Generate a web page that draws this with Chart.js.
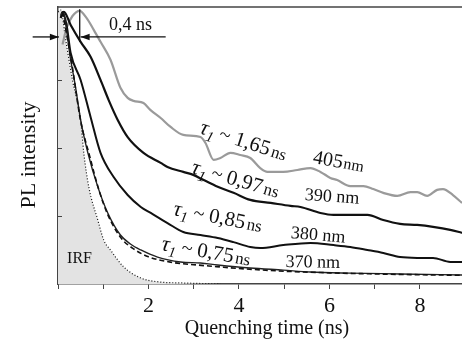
<!DOCTYPE html>
<html><head><meta charset="utf-8">
<script src="https://cdn.jsdelivr.net/npm/chart.js@4/dist/chart.umd.min.js"></script>
<style>html,body{margin:0;padding:0;background:#fff;overflow:hidden}#wrap{width:462px;height:352px}</style>
</head><body><div id="wrap"><canvas id="c" width="462" height="352"></canvas></div>
<script>
// ---- data (time in ns, normalized PL intensity) ----
const t405 = [0.10,0.19,0.32,0.48,0.63,0.79,0.94,1.16,1.38,1.54,1.67,1.89,2.04,2.27,2.49,2.77,3.15,3.26,3.44,3.59,3.81,4.03,4.25,4.47,4.63,4.98,5.29,5.58,5.80,6.02,6.17,6.46,6.75,6.97,7.19,7.50,7.79,7.94,8.16,8.38,8.51,8.73,8.93];
const v405 = [0.880,0.941,0.985,1.004,0.978,0.934,0.890,0.824,0.721,0.684,0.673,0.665,0.640,0.610,0.577,0.548,0.540,0.518,0.456,0.463,0.482,0.474,0.463,0.426,0.412,0.412,0.419,0.426,0.412,0.390,0.382,0.360,0.360,0.349,0.335,0.324,0.338,0.338,0.324,0.346,0.349,0.327,0.298];

const t390 = [0.06,0.13,0.28,0.50,0.72,0.94,1.12,1.32,1.54,1.89,2.27,2.42,2.77,2.99,3.22,3.53,3.88,4.25,4.70,5.14,5.36,5.80,6.09,6.46,6.84,7.19,7.56,7.94,8.29,8.67,8.93];
const v390 = [0.978,1.000,0.952,0.890,0.835,0.750,0.676,0.603,0.540,0.482,0.445,0.430,0.412,0.401,0.382,0.357,0.335,0.309,0.298,0.287,0.283,0.261,0.254,0.254,0.254,0.235,0.221,0.217,0.210,0.199,0.188];

const t380 = [0.06,0.10,0.19,0.28,0.50,0.72,0.94,1.23,1.54,1.83,2.05,2.42,2.77,3.15,3.53,3.88,4.25,4.47,4.98,5.58,6.09,6.46,6.84,7.19,7.56,7.94,8.29,8.67,8.93];
const v380 = [0.978,1.000,0.952,0.849,0.750,0.614,0.482,0.393,0.327,0.283,0.261,0.224,0.191,0.180,0.169,0.154,0.136,0.132,0.143,0.151,0.143,0.136,0.125,0.114,0.099,0.096,0.096,0.081,0.081];

const t370 = [0.06,0.10,0.28,0.39,0.50,0.66,0.88,1.10,1.38,1.60,1.83,2.20,2.71,3.15,3.53,4.25,4.98,5.58,6.46,7.56,8.93];
const v370 = [0.989,1.000,0.824,0.721,0.603,0.482,0.357,0.261,0.180,0.147,0.125,0.099,0.081,0.077,0.070,0.059,0.051,0.044,0.040,0.037,0.033];

const tFit = [0.10,0.30,0.50,0.70,0.90,1.10,1.40,1.70,2.00,2.50,3.00,3.50,4.00,5.00,6.00,7.00,8.00,8.93];
const vFit = [1.000,0.815,0.600,0.470,0.348,0.255,0.168,0.126,0.100,0.080,0.071,0.064,0.057,0.047,0.041,0.037,0.034,0.032];

const tIRF = [0.00,0.06,0.17,0.32,0.50,0.57,0.68,0.88,1.01,1.16,1.45,1.83,2.27,2.71,3.59];
const vIRF = [1.000,1.007,0.897,0.750,0.603,0.482,0.357,0.235,0.162,0.125,0.063,0.022,0.007,0.004,0.000];

const xTickLabels = {2:'2',4:'4',6:'6',8:'8'};
const yTickValues = [0.25,0.5,0.75];

// annotations (data coordinates)
const tauValues = ['1,65','0,97','0,85','0,75'];
const tauX = [3.11,2.93,2.53,2.27];
const tauY = [0.555,0.408,0.254,0.125];
const tauAngle = [18,16,11,10];
const waveValues = ['405','390','380','370'];
const waveX = [5.62,5.45,5.14,5.03];
const waveY = [0.445,0.309,0.169,0.0625];
const waveAngle = [10,4,5,1];

const pts = (ts, vs) => ts.map((t,i)=>({x:t,y:vs[i]}));

const deco = {
  id:'deco',
  afterDraw(chart){
    const {ctx, chartArea:a, scales:{x,y}} = chart;
    ctx.save();
    ctx.strokeStyle='#444'; ctx.lineWidth=1.5;
    ctx.beginPath(); ctx.moveTo(a.left,a.top); ctx.lineTo(a.right,a.top); ctx.stroke();
    ctx.lineWidth=1;
    yTickValues.forEach(v=>{const py=Math.round(y.getPixelForValue(v))+0.5; ctx.beginPath(); ctx.moveTo(a.left,py); ctx.lineTo(a.left+4,py); ctx.stroke();});

    ctx.fillStyle='#111';
    // axis titles
    ctx.font='20px "Liberation Serif"'; ctx.textAlign='center'; ctx.textBaseline='middle';
    ctx.fillText('Quenching time (ns)', 267, 329);
    ctx.save(); ctx.translate(29,155); ctx.rotate(-Math.PI/2);
    ctx.font='22px "Liberation Serif"'; ctx.fillText('PL intensity',0,0); ctx.restore();

    // 0,4 ns marker
    ctx.strokeStyle='#111'; ctx.fillStyle='#111'; ctx.lineWidth=1.3;
    const arrow=(x1,y1,x2,y2)=>{
      ctx.beginPath(); ctx.moveTo(x1,y1); ctx.lineTo(x2,y2); ctx.stroke();
      const ang=Math.atan2(y2-y1,x2-x1), L=9, W=3.2;
      ctx.beginPath(); ctx.moveTo(x2,y2);
      ctx.lineTo(x2-L*Math.cos(ang)+W*Math.sin(ang), y2-L*Math.sin(ang)-W*Math.cos(ang));
      ctx.lineTo(x2-L*Math.cos(ang)-W*Math.sin(ang), y2-L*Math.sin(ang)+W*Math.cos(ang));
      ctx.closePath(); ctx.fill();
    };
    const ay=y.getPixelForValue(0.908);
    arrow(x.getPixelForValue(-0.56), ay, x.getPixelForValue(0.02), ay);
    arrow(x.getPixelForValue(2.38), ay, x.getPixelForValue(0.50), ay);
    ctx.beginPath(); ctx.moveTo(x.getPixelForValue(0.48), y.getPixelForValue(1.01)); ctx.lineTo(x.getPixelForValue(0.48), y.getPixelForValue(0.89)); ctx.stroke();
    ctx.font='18px "Liberation Serif"'; ctx.textAlign='center'; ctx.textBaseline='alphabetic';
    ctx.fillText('0,4 ns', x.getPixelForValue(1.6), y.getPixelForValue(0.933));

    // IRF
    ctx.font='16px "Liberation Serif"'; ctx.textAlign='left';
    ctx.fillText('IRF', x.getPixelForValue(0.2), y.getPixelForValue(0.077));

    // tau labels
    const seq=(segs)=>{let cx=0; segs.forEach(([txt,font,dy])=>{ctx.font=font; ctx.fillText(txt,cx,dy); cx+=ctx.measureText(txt).width;});};
    tauValues.forEach((val,i)=>{
      ctx.save(); ctx.translate(x.getPixelForValue(tauX[i]), y.getPixelForValue(tauY[i])); ctx.rotate(tauAngle[i]*Math.PI/180);
      seq([['τ','italic 22px "Liberation Serif"',0],['1','italic 15px "Liberation Serif"',5],[' ~ ','20px "Liberation Serif"',0],[val,'21px "Liberation Serif"',0],[' ','8px "Liberation Serif"',0],['ns','17px "Liberation Serif"',0]]);
      ctx.restore();
    });
    waveValues.forEach((val,i)=>{
      ctx.save(); ctx.translate(x.getPixelForValue(waveX[i]), y.getPixelForValue(waveY[i])); ctx.rotate(waveAngle[i]*Math.PI/180);
      if(i===0) seq([[val,'20px "Liberation Serif"',0],[' ','4px "Liberation Serif"',0],['nm','16px "Liberation Serif"',0]]);
      else seq([[val+' nm','18px "Liberation Serif"',0]]);
      ctx.restore();
    });
    ctx.restore();
  }
};

const lineOpts = {pointRadius:0, cubicInterpolationMode:'monotone', fill:false};
new Chart(document.getElementById('c'), {
  type:'line',
  data:{datasets:[
    {...lineOpts, data:pts(tFit,vFit), borderColor:'#111', borderWidth:1.6, borderDash:[5,3]},
    {...lineOpts, data:pts(t370,v370), borderColor:'#222', borderWidth:1.4},
    {...lineOpts, data:pts(t380,v380), borderColor:'#111', borderWidth:2},
    {...lineOpts, data:pts(t390,v390), borderColor:'#111', borderWidth:2.2},
    {...lineOpts, data:pts(t405,v405), borderColor:'#9a9a9a', borderWidth:2.2},
    {...lineOpts, data:pts(tIRF,vIRF), borderColor:'#111', borderWidth:1.2, borderDash:[1,2], fill:'origin', backgroundColor:'#e3e3e3'}
  ]},
  options:{
    responsive:false, animation:false, devicePixelRatio:1,
    layout:{padding:{top:7,right:0,bottom:0,left:0}},
    plugins:{legend:{display:false}, tooltip:{enabled:false}},
    scales:{
      x:{type:'linear', min:0, max:8.93,
        afterFit:(s)=>{s.height=68;},
        grid:{display:true, drawOnChartArea:false, drawTicks:true, tickLength:5, color:'#444', lineWidth:1},
        border:{display:true, color:'#444', width:1.5},
        ticks:{stepSize:1, includeBounds:false, autoSkip:false, maxRotation:0, padding:4, color:'#111', font:{family:'"Liberation Serif"', size:22}, callback:(v)=>xTickLabels[v]||''}
      },
      y:{type:'linear', min:0, max:1.018,
        afterFit:(s)=>{s.width=58;},
        grid:{display:false},
        border:{display:true, color:'#444', width:1.5},
        ticks:{display:false}
      }
    }
  },
  plugins:[deco]
});
</script></body></html>
